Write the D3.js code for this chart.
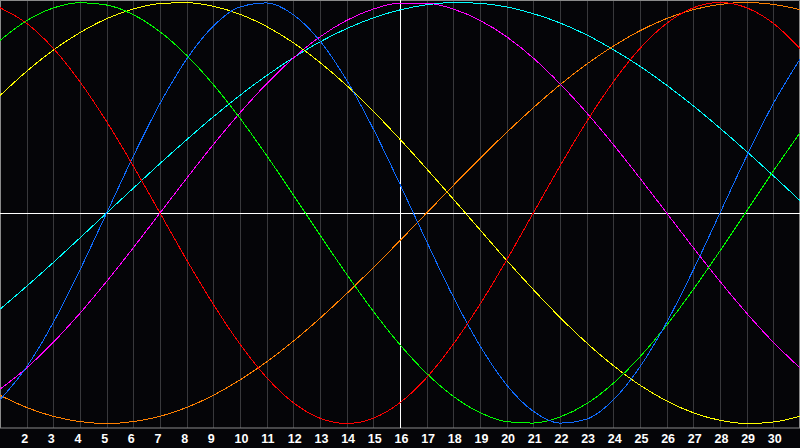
<!DOCTYPE html>
<html>
<head>
<meta charset="utf-8">
<script src="https://cdn.jsdelivr.net/npm/d3@7"></script>
<style>
    html, body { margin: 0; padding: 0; background: #000; }
    svg { display: block; }
</style>
</head>
<body>
<div id="chart"></div>
<script>
'use strict';

// days of the month shown on the x axis
var days = d3.range(1, 32);
var dayLabels = d3.range(2, 31);
var today = 16;

// cycle values, one per day (1..31)
var red = [0.975, 0.901, 0.782, 0.623, 0.434, 0.223, 0, -0.223, -0.434, -0.623, -0.782, -0.901, -0.975, -1, -0.975, -0.901,
    -0.782, -0.623, -0.434, -0.223, 0, 0.223, 0.434, 0.623, 0.782, 0.901, 0.975, 1, 0.975, 0.901, 0.782];
var green = [0.82, 0.914, 0.974, 0.999, 0.988, 0.942, 0.861, 0.749, 0.61, 0.45, 0.273, 0.086, -0.105, -0.291, -0.467, -0.626,
    -0.762, -0.871, -0.948, -0.991, -0.998, -0.969, -0.906, -0.809, -0.683, -0.533, -0.363, -0.18, 0.009, 0.199, 0.381];
var blue = [-0.888, -0.731, -0.52, -0.27, 0, 0.27, 0.52, 0.731, 0.888, 0.979, 0.998, 0.942, 0.817, 0.631, 0.399, 0.136,
    -0.136, -0.399, -0.631, -0.817, -0.942, -0.998, -0.979, -0.888, -0.731, -0.52, -0.27, 0, 0.27, 0.52, 0.731];
var magenta = [-0.837, -0.736, -0.614, -0.476, -0.325, -0.165, 0, 0.165, 0.325, 0.476, 0.614, 0.736, 0.837, 0.915, 0.969, 0.997,
    0.997, 0.969, 0.915, 0.837, 0.736, 0.614, 0.476, 0.325, 0.165, 0, -0.165, -0.325, -0.476, -0.614, -0.736];
var yellow = [0.558, 0.673, 0.774, 0.857, 0.923, 0.969, 0.995, 0.999, 0.982, 0.944, 0.886, 0.809, 0.715, 0.606, 0.483, 0.35,
    0.21, 0.066, -0.08, -0.225, -0.364, -0.496, -0.617, -0.725, -0.818, -0.893, -0.949, -0.985, -1, -0.993, -0.965];
var cyan = [-0.457, -0.348, -0.235, -0.118, 0, 0.118, 0.235, 0.348, 0.457, 0.559, 0.653, 0.738, 0.813, 0.876, 0.927, 0.965,
    0.989, 1, 0.996, 0.979, 0.947, 0.903, 0.846, 0.776, 0.697, 0.607, 0.509, 0.403, 0.292, 0.177, 0.059];
var orange = [-0.866, -0.924, -0.966, -0.991, -1, -0.991, -0.966, -0.924, -0.866, -0.793, -0.707, -0.609, -0.5, -0.383, -0.259, -0.131,
    0, 0.131, 0.259, 0.383, 0.5, 0.609, 0.707, 0.793, 0.866, 0.924, 0.966, 0.991, 1, 0.991, 0.966];

var series = [
    { name: 'cyan', color: '#00ffff', values: cyan },
    { name: 'orange', color: '#ff8000', values: orange },
    { name: 'magenta', color: '#ff00ff', values: magenta },
    { name: 'yellow', color: '#ffff00', values: yellow },
    { name: 'green', color: '#00ff00', values: green },
    { name: 'blue', color: '#0f6cff', values: blue },
    { name: 'red', color: '#ff0000', values: red }
];

var width = 800;
var height = 448;
var plotBottom = 428;

var x = d3.scaleLinear().domain([1, 31]).range([0, width]);
var y = d3.scaleLinear().domain([-1, 1]).range([423.5, 2.5]);

var svg = d3.select('#chart').append('svg')
    .attr('width', width)
    .attr('height', height);

svg.append('rect')
    .attr('width', width)
    .attr('height', height)
    .attr('fill', '#050508');

// day grid
svg.append('g')
    .selectAll('line')
    .data(days.filter(function(d) { return d !== today; }))
    .enter().append('line')
    .attr('x1', function(d) { return Math.round(x(d)) + 0.5; })
    .attr('x2', function(d) { return Math.round(x(d)) + 0.5; })
    .attr('y1', 0)
    .attr('y2', plotBottom)
    .style('stroke', '#38383b')
    .style('stroke-width', 1);

// frame
svg.append('rect')
    .attr('x', 0.5)
    .attr('y', 0.5)
    .attr('width', width - 1)
    .attr('height', plotBottom - 0.5)
    .attr('fill', 'none')
    .style('stroke', '#8a8a8a')
    .style('stroke-width', 1);

// zero line and today marker
svg.append('line')
    .attr('x1', 0).attr('x2', width)
    .attr('y1', Math.round(y(0)) + 0.5).attr('y2', Math.round(y(0)) + 0.5)
    .style('stroke', '#ffffff');

svg.append('line')
    .attr('x1', Math.round(x(today)) + 0.5).attr('x2', Math.round(x(today)) + 0.5)
    .attr('y1', 0).attr('y2', plotBottom)
    .style('stroke', '#ffffff');

var line = d3.line()
    .x(function(d, i) { return x(days[i]); })
    .y(function(d) { return y(d); })
    .curve(d3.curveMonotoneX);

svg.append('g')
    .selectAll('path')
    .data(series)
    .enter().append('path')
    .attr('d', function(s) { return line(s.values); })
    .attr('fill', 'none')
    .attr('shape-rendering', 'crispEdges')
    .style('stroke', function(s) { return s.color; })
    .style('stroke-width', 1);

// day labels
var axis = d3.axisBottom(x)
    .tickValues(dayLabels)
    .tickSize(0)
    .tickPadding(0)
    .tickFormat(d3.format('d'));

var axisG = svg.append('g')
    .attr('transform', 'translate(0,' + plotBottom + ')')
    .call(axis);

axisG.select('.domain').remove();
axisG.selectAll('text')
    .attr('x', -6)
    .attr('y', 15)
    .attr('dy', null)
    .attr('text-anchor', 'start')
    .style('font-family', '"Liberation Sans", Arial, sans-serif')
    .style('font-weight', 'bold')
    .style('font-size', '12.5px')
    .style('fill', '#ffffff');
</script>
</body>
</html>
